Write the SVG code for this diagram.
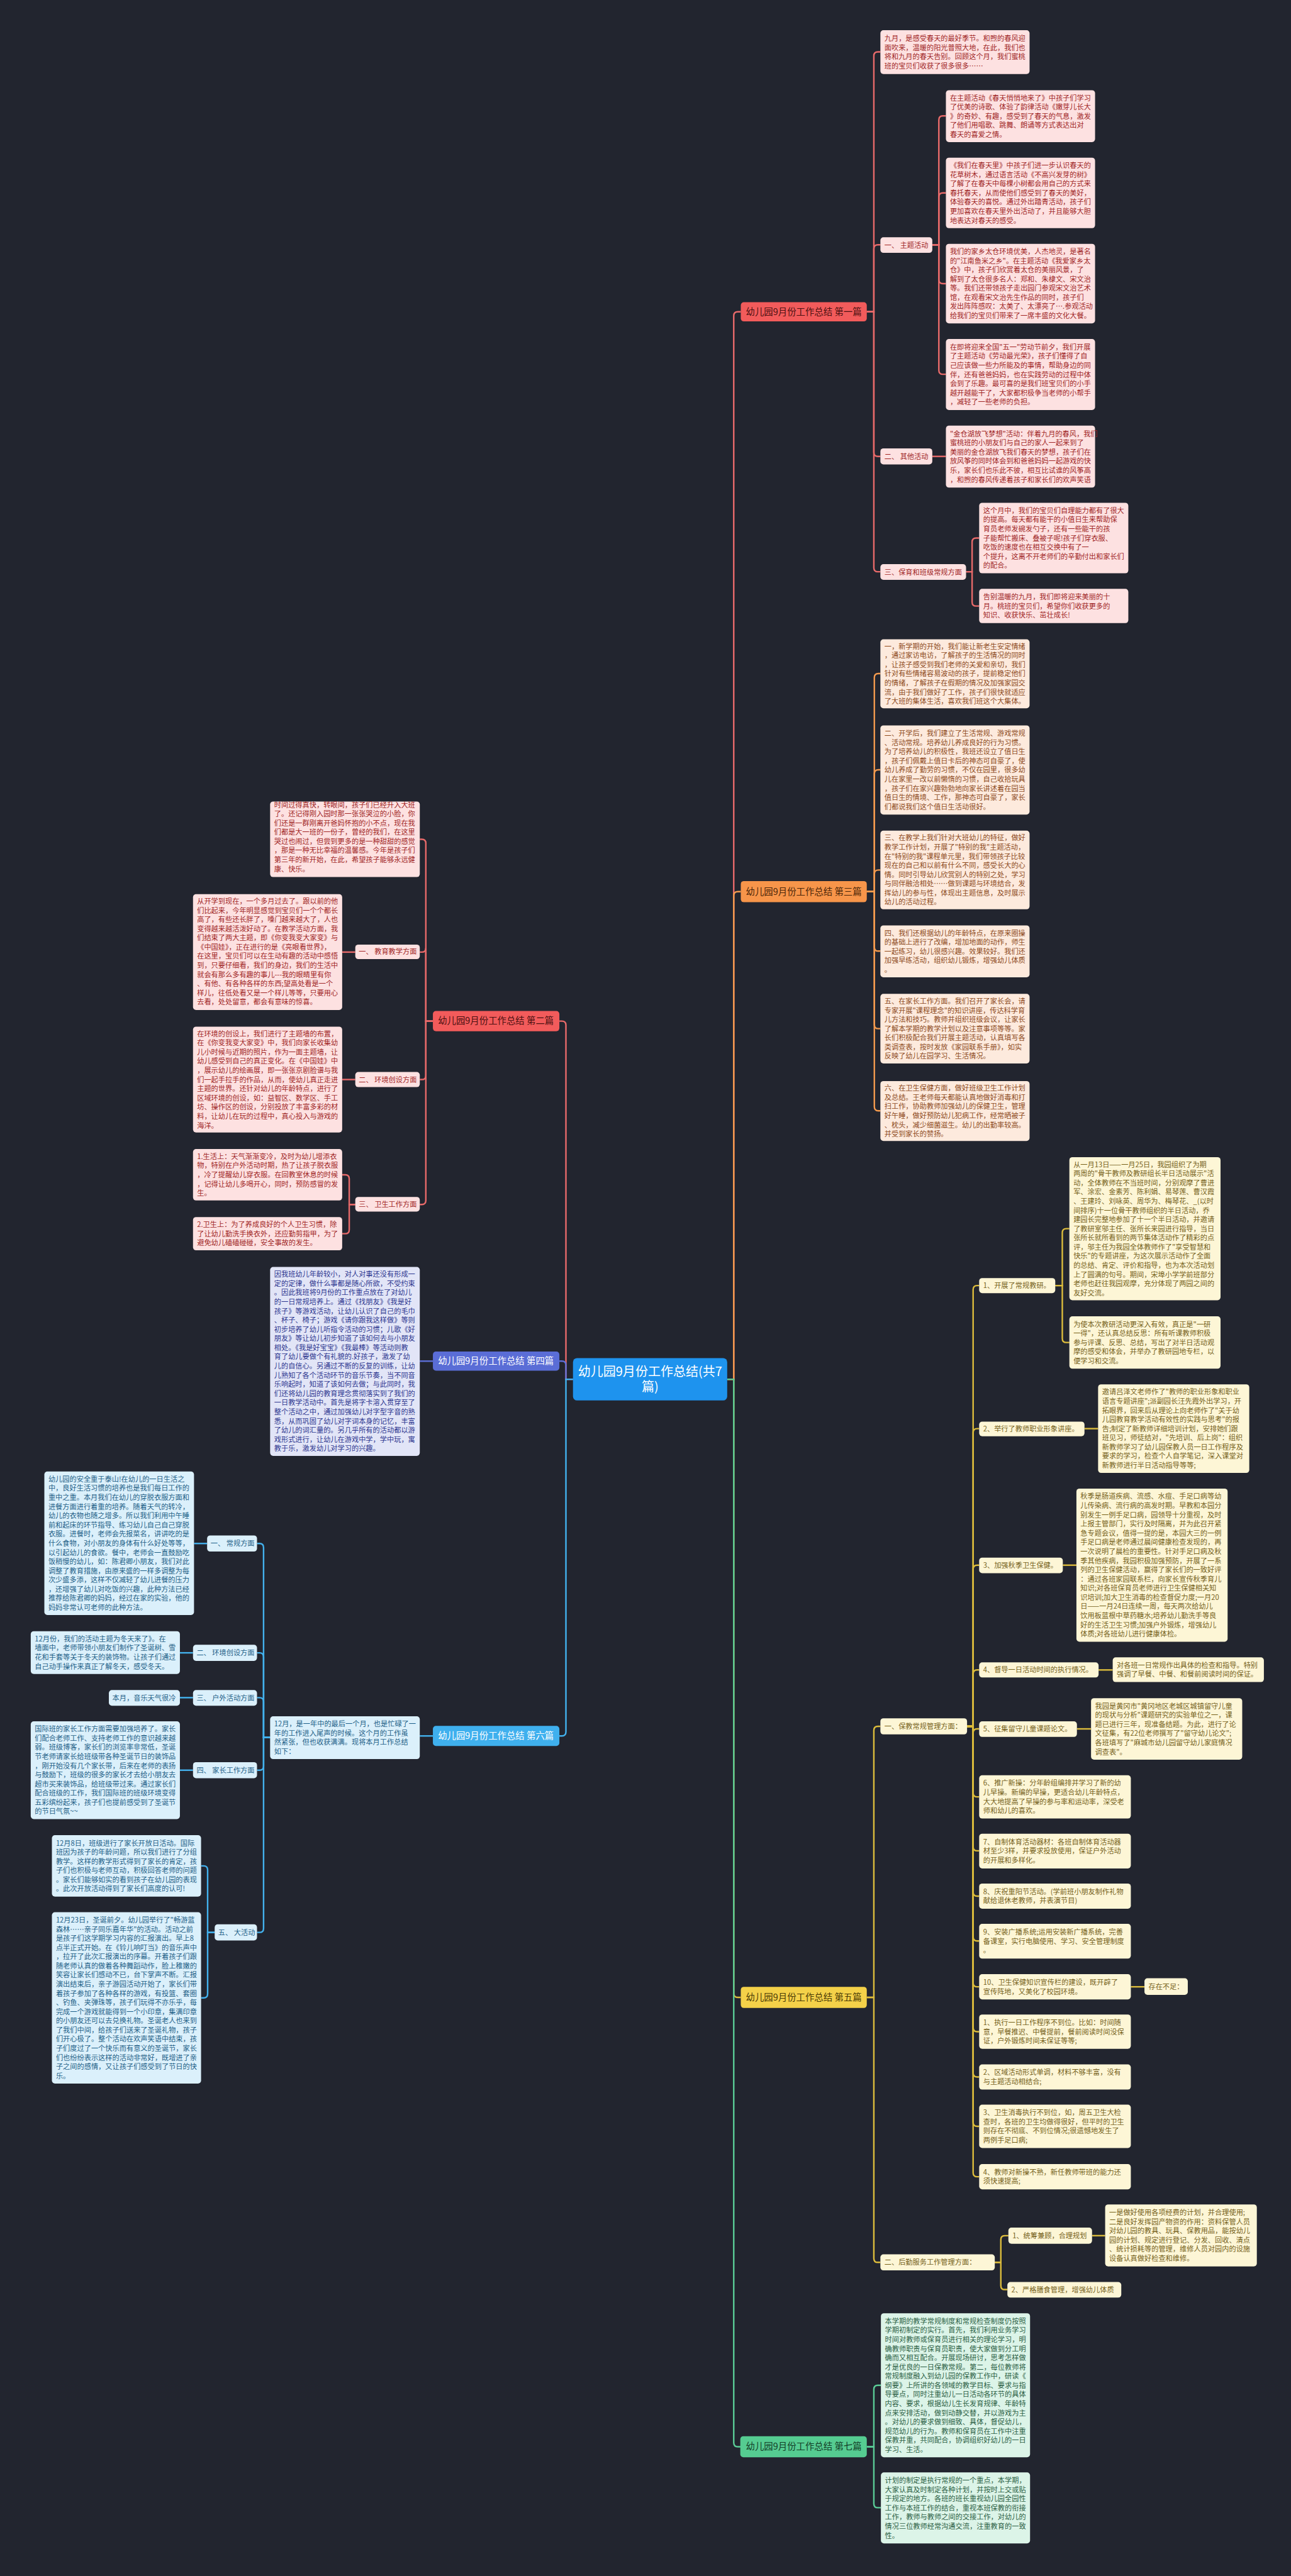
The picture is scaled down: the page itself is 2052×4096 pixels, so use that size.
<svg xmlns="http://www.w3.org/2000/svg" width="2052" height="4096" viewBox="0 0 2052 4096">
<style>
text{font-family:"Noto Sans CJK SC","Noto Sans",sans-serif;font-size:14px}
.r{fill:#fde1e1}.tr{fill:#a12626}
.o{fill:#fdeadd}.to{fill:#8e4a1c}
.y{fill:#fdf6d6}.ty{fill:#76621a}
.g{fill:#dcf4e8}.tg{fill:#2b5f44}
.p{fill:#e2e5f7}.tp{fill:#2d3690}
.b{fill:#dbf0fb}.tb{fill:#1d5f88}
.bn{font-size:18px;text-anchor:middle}
.c path{fill:none;stroke-width:3}
.cr{stroke:#e86a6a}.co{stroke:#f39a4e}.cy{stroke:#dcbc3c}.cg{stroke:#5acb96}.cp{stroke:#5d6fd8}.cb{stroke:#43b2ee}
</style>
<rect width="2052" height="4096" fill="#22252f"/>
<g transform="scale(0.801)">
<g class="c">
<path class="cr" d="M1443 2738H1456V627Q1456 619 1464 619H1470"/>
<path class="co" d="M1443 2738H1456V1778Q1456 1770 1464 1770H1470"/>
<path class="cy" d="M1443 2738H1456V3957Q1456 3965 1464 3965H1470"/>
<path class="cg" d="M1443 2738H1456V4849Q1456 4857 1464 4857H1470"/>
<path class="cr" d="M1137 2738H1123V2035Q1123 2027 1115 2027H1110"/>
<path class="cp" d="M1137 2738H1123V2710Q1123 2702 1115 2702H1110"/>
<path class="cb" d="M1137 2738H1123V3438Q1123 3446 1115 3446H1110"/>
<path class="cr" d="M1720 619H1734V111Q1734 103 1742 103H1747"/>
<path class="cr" d="M1720 619H1734V494Q1734 486 1742 486H1747"/>
<path class="cr" d="M1720 619H1734V898Q1734 906 1742 906H1747"/>
<path class="cr" d="M1720 619H1734V1127Q1734 1135 1742 1135H1747"/>
<path class="cr" d="M1850 486H1863V238Q1863 230 1871 230H1877"/>
<path class="cr" d="M1850 486H1863V391Q1863 383 1871 383H1877"/>
<path class="cr" d="M1850 486H1863V555Q1863 563 1871 563H1877"/>
<path class="cr" d="M1850 486H1863V735Q1863 743 1871 743H1877"/>
<path class="cr" d="M1850 906H1877"/>
<path class="cr" d="M1917 1135H1929V1076Q1929 1068 1937 1068H1943"/>
<path class="cr" d="M1917 1135H1929V1195Q1929 1203 1937 1203H1943"/>
<path class="co" d="M1720 1770H1735V1345Q1735 1337 1743 1337H1747"/>
<path class="co" d="M1720 1770H1735V1536Q1735 1528 1743 1528H1747"/>
<path class="co" d="M1720 1770H1735V1735Q1735 1727 1743 1727H1747"/>
<path class="co" d="M1720 1770H1735V1880Q1735 1888 1743 1888H1747"/>
<path class="co" d="M1720 1770H1735V2034Q1735 2042 1743 2042H1747"/>
<path class="co" d="M1720 1770H1735V2197Q1735 2205 1743 2205H1747"/>
<path class="cy" d="M1720 3965H1734V3435Q1734 3427 1742 3427H1747"/>
<path class="cy" d="M1720 3965H1734V4483Q1734 4491 1742 4491H1747"/>
<path class="cy" d="M1919 3427H1931V2560Q1931 2552 1939 2552H1943"/>
<path class="cy" d="M1919 3427H1931V2844Q1931 2836 1939 2836H1943"/>
<path class="cy" d="M1919 3427H1931V3115Q1931 3107 1939 3107H1943"/>
<path class="cy" d="M1919 3427H1931V3323Q1931 3315 1939 3315H1943"/>
<path class="cy" d="M1919 3427H1931V3440Q1931 3432 1939 3432H1943"/>
<path class="cy" d="M1919 3427H1931V3559Q1931 3567 1939 3567H1943"/>
<path class="cy" d="M1919 3427H1931V3666Q1931 3674 1939 3674H1943"/>
<path class="cy" d="M1919 3427H1931V3756Q1931 3764 1939 3764H1943"/>
<path class="cy" d="M1919 3427H1931V3845Q1931 3853 1939 3853H1943"/>
<path class="cy" d="M1919 3427H1931V3936Q1931 3944 1939 3944H1943"/>
<path class="cy" d="M1919 3427H1931V4025Q1931 4033 1939 4033H1943"/>
<path class="cy" d="M1919 3427H1931V4115Q1931 4123 1939 4123H1943"/>
<path class="cy" d="M1919 3427H1931V4213Q1931 4221 1939 4221H1943"/>
<path class="cy" d="M1919 3427H1931V4313Q1931 4321 1939 4321H1943"/>
<path class="cy" d="M2094 2552H2108V2447Q2108 2439 2116 2439H2122"/>
<path class="cy" d="M2094 2552H2108V2657Q2108 2665 2116 2665H2122"/>
<path class="cy" d="M2152 2836H2179"/>
<path class="cy" d="M2109 3107H2136"/>
<path class="cy" d="M2180 3315H2208"/>
<path class="cy" d="M2137 3432H2165"/>
<path class="cy" d="M2244 3944H2271"/>
<path class="cy" d="M1974 4491H1986V4446Q1986 4438 1994 4438H2001"/>
<path class="cy" d="M1974 4491H1986V4537Q1986 4545 1994 4545H1999"/>
<path class="cy" d="M2167 4438H2193"/>
<path class="cg" d="M1720 4857H1734V4743Q1734 4735 1742 4735H1748"/>
<path class="cg" d="M1720 4857H1734V4970Q1734 4978 1742 4978H1748"/>
<path class="cr" d="M859 2027H845V1674Q845 1666 837 1666H833"/>
<path class="cr" d="M859 2027H845V1882Q845 1890 837 1890H833"/>
<path class="cr" d="M859 2027H845V2135Q845 2143 837 2143H833"/>
<path class="cr" d="M859 2027H845V2383Q845 2391 837 2391H833"/>
<path class="cr" d="M705 1890H679"/>
<path class="cr" d="M705 2143H679"/>
<path class="cr" d="M705 2391H693V2340Q693 2332 685 2332H679"/>
<path class="cr" d="M705 2391H693V2441Q693 2449 685 2449H679"/>
<path class="cp" d="M859 2702H833"/>
<path class="cb" d="M859 3446H833"/>
<path class="cb" d="M536 3449H523V3072Q523 3064 515 3064H510"/>
<path class="cb" d="M536 3449H523V3289Q523 3281 515 3281H510"/>
<path class="cb" d="M536 3449H523V3378Q523 3370 515 3370H510"/>
<path class="cb" d="M536 3449H523V3506Q523 3514 515 3514H510"/>
<path class="cb" d="M536 3449H523V3828Q523 3836 515 3836H510"/>
<path class="cb" d="M411 3064H385"/>
<path class="cb" d="M383 3281H357"/>
<path class="cb" d="M383 3370H357"/>
<path class="cb" d="M383 3514H357"/>
<path class="cb" d="M426 3836H412V3712Q412 3704 404 3704H399"/>
<path class="cb" d="M426 3836H412V3958Q412 3966 404 3966H399"/>
</g>

<g id="center"><rect x="1137" y="2696" width="306" height="84" rx="8" fill="#1e93ee"/><text x="1290" y="2731" fill="#fff" text-anchor="middle" style="font-size:25px">幼儿园9月份工作总结(共7<tspan x="1290" dy="30">篇)</tspan></text></g>

<g id="b1"><rect x="1470" y="600" width="250" height="38" rx="6" fill="#f25b5b"/><text class="bn" x="1595" y="625" fill="#4a1010">幼儿园9月份工作总结 第一篇</text></g>
<g id="b3"><rect x="1470" y="1749" width="250" height="42" rx="6" fill="#f7954a"/><text class="bn" x="1595" y="1776" fill="#4a2508">幼儿园9月份工作总结 第三篇</text></g>
<g id="b5"><rect x="1470" y="3944" width="250" height="42" rx="6" fill="#f4d149"/><text class="bn" x="1595" y="3971" fill="#4a3a05">幼儿园9月份工作总结 第五篇</text></g>
<g id="b7"><rect x="1469" y="4836" width="251" height="42" rx="6" fill="#55cc91"/><text class="bn" x="1595" y="4863" fill="#123d27">幼儿园9月份工作总结 第七篇</text></g>
<g id="b2"><rect x="859" y="2007" width="251" height="40" rx="6" fill="#f25b5b"/><text class="bn" x="984" y="2033" fill="#4a1010">幼儿园9月份工作总结 第二篇</text></g>
<g id="b4"><rect x="859" y="2683" width="251" height="38" rx="6" fill="#5a6dd6"/><text class="bn" x="984" y="2708" fill="#fff">幼儿园9月份工作总结 第四篇</text></g>
<g id="b6"><rect x="859" y="3426" width="251" height="40" rx="6" fill="#3fb0ee"/><text class="bn" x="984" y="3452" fill="#fff">幼儿园9月份工作总结 第六篇</text></g>

<g id="s1a"><rect class="r" x="1747" y="60" width="296" height="87" rx="6"/><text class="tr" x="1755" y="81.3"><tspan x="1755">九月，是感受春天的最好季节。和煦的春风迎</tspan><tspan x="1755" dy="18.2">面吹来，温暖的阳光普照大地，在此，我们也</tspan><tspan x="1755" dy="18.2">将和九月的春天告别。回顾这个月，我们蜜桃</tspan><tspan x="1755" dy="18.2">班的宝贝们收获了很多很多……</tspan></text></g>
<g id="s1n1"><rect class="r" x="1747" y="471" width="103" height="31" rx="6"/><text class="tr" x="1755" y="491.5">一、 主题活动</text></g>
<g id="s1b"><rect class="r" x="1877" y="179" width="296" height="103" rx="6"/><text class="tr" x="1885" y="199.2"><tspan x="1885">在主题活动《春天悄悄地来了》中孩子们学习</tspan><tspan x="1885" dy="18.2">了优美的诗歌、体验了韵律活动《嫩芽儿长大</tspan><tspan x="1885" dy="18.2">》的奇妙、有趣，感受到了春天的气息，激发</tspan><tspan x="1885" dy="18.2">了他们用唱歌、跳舞、朗诵等方式表达出对</tspan><tspan x="1885" dy="18.2">春天的喜爱之情。</tspan></text></g>
<g id="s1c"><rect class="r" x="1877" y="313" width="296" height="140" rx="6"/><text class="tr" x="1885" y="333.5"><tspan x="1885">《我们在春天里》中孩子们进一步认识春天的</tspan><tspan x="1885" dy="18.2">花草树木，通过语言活动《不高兴发芽的树》</tspan><tspan x="1885" dy="18.2">了解了在春天中每棵小树都会用自己的方式来</tspan><tspan x="1885" dy="18.2">春托春天，从而使他们感受到了春天的美好，</tspan><tspan x="1885" dy="18.2">体验春天的喜悦。通过外出踏青活动，孩子们</tspan><tspan x="1885" dy="18.2">更加喜欢在春天里外出活动了，并且能够大胆</tspan><tspan x="1885" dy="18.2">地表达对春天的感受。</tspan></text></g>
<g id="s1d"><rect class="r" x="1877" y="484" width="296" height="158" rx="6"/><text class="tr" x="1885" y="504.4"><tspan x="1885">我们的家乡太仓环境优美，人杰地灵，是著名</tspan><tspan x="1885" dy="18.2">的"江南鱼米之乡"。在主题活动《我爱家乡太</tspan><tspan x="1885" dy="18.2">仓》中，孩子们欣赏着太仓的美丽风景，了</tspan><tspan x="1885" dy="18.2">解到了太仓很多名人：郑和、朱棣文、宋文治</tspan><tspan x="1885" dy="18.2">等。我们还带领孩子走出园门参观宋文治艺术</tspan><tspan x="1885" dy="18.2">馆，在观看宋文治先生作品的同时，孩子们</tspan><tspan x="1885" dy="18.2">发出阵阵感叹：太美了、太漂亮了….参观活动</tspan><tspan x="1885" dy="18.2">给我们的宝贝们带来了一席丰盛的文化大餐。</tspan></text></g>
<g id="s1e"><rect class="r" x="1877" y="673" width="296" height="141" rx="6"/><text class="tr" x="1885" y="694"><tspan x="1885">在即将迎来全国"五一"劳动节前夕，我们开展</tspan><tspan x="1885" dy="18.2">了主题活动《劳动最光荣》，孩子们懂得了自</tspan><tspan x="1885" dy="18.2">己应该做一些力所能及的事情，帮助身边的同</tspan><tspan x="1885" dy="18.2">伴，还有爸爸妈妈，也在实践劳动的过程中体</tspan><tspan x="1885" dy="18.2">会到了乐趣。最可喜的是我们班宝贝们的小手</tspan><tspan x="1885" dy="18.2">越开越能干了，大家都积极争当老师的小帮手</tspan><tspan x="1885" dy="18.2">，减轻了一些老师的负担。</tspan></text></g>
<g id="s1n2"><rect class="r" x="1747" y="890" width="103" height="32" rx="6"/><text class="tr" x="1755" y="911">二、 其他活动</text></g>
<g id="s1f"><rect class="r" x="1877" y="845" width="296" height="123" rx="6"/><text class="tr" x="1885" y="866.1"><tspan x="1885">"金仓湖放飞梦想"活动：伴着九月的春风，我们</tspan><tspan x="1885" dy="18.2">蜜桃班的小朋友们与自己的家人一起来到了</tspan><tspan x="1885" dy="18.2">美丽的金仓湖放飞我们春天的梦想，孩子们在</tspan><tspan x="1885" dy="18.2">放风筝的同时体会到和爸爸妈妈一起游戏的快</tspan><tspan x="1885" dy="18.2">乐，家长们也乐此不彼，相互比试谁的风筝高</tspan><tspan x="1885" dy="18.2">，和煦的春风传递着孩子和家长们的欢声笑语</tspan></text></g>
<g id="s1n3"><rect class="r" x="1747" y="1120" width="170" height="31" rx="6"/><text class="tr" x="1755" y="1140.5">三、保育和班级常规方面</text></g>
<g id="s1g"><rect class="r" x="1943" y="998" width="296" height="140" rx="6"/><text class="tr" x="1951" y="1018.5"><tspan x="1951">这个月中，我们的宝贝们自理能力都有了很大</tspan><tspan x="1951" dy="18.2">的提高。每天都有能干的小值日生来帮助保</tspan><tspan x="1951" dy="18.2">育员老师发碗发勺子，还有一些能干的孩</tspan><tspan x="1951" dy="18.2">子能帮忙搬床、叠被子呢!孩子们穿衣服、</tspan><tspan x="1951" dy="18.2">吃饭的速度也在相互交换中有了一</tspan><tspan x="1951" dy="18.2">个提升，这离不开老师们的辛勤付出和家长们</tspan><tspan x="1951" dy="18.2">的配合。</tspan></text></g>
<g id="s1h"><rect class="r" x="1943" y="1169" width="296" height="68" rx="6"/><text class="tr" x="1951" y="1189.9"><tspan x="1951">告别温暖的九月，我们即将迎来美丽的十</tspan><tspan x="1951" dy="18.2">月。桃班的宝贝们，希望你们收获更多的</tspan><tspan x="1951" dy="18.2">知识、收获快乐、茁壮成长!</tspan></text></g>

<g id="s3a"><rect class="o" x="1747" y="1269" width="296" height="137" rx="6"/><text class="to" x="1755" y="1288"><tspan x="1755">一，新学期的开始，我们能让新老生安定情绪</tspan><tspan x="1755" dy="18.2">，通过家访电访，了解孩子的生活情况的同时</tspan><tspan x="1755" dy="18.2">，让孩子感受到我们老师的关爱和亲切，我们</tspan><tspan x="1755" dy="18.2">针对有些情绪容易波动的孩子，提前稳定他们</tspan><tspan x="1755" dy="18.2">的情绪，了解孩子在假期的情况及加强家园交</tspan><tspan x="1755" dy="18.2">流，由于我们做好了工作，孩子们很快就适应</tspan><tspan x="1755" dy="18.2">了大班的集体生活，喜欢我们班这个大集体。</tspan></text></g>
<g id="s3b"><rect class="o" x="1747" y="1440" width="296" height="177" rx="6"/><text class="to" x="1755" y="1460.8"><tspan x="1755">二、开学后，我们建立了生活常规、游戏常规</tspan><tspan x="1755" dy="18.2">、活动常规。培养幼儿养成良好的行为习惯。</tspan><tspan x="1755" dy="18.2">为了培养幼儿的积极性，我班还设立了值日生</tspan><tspan x="1755" dy="18.2">，孩子们佩戴上值日卡后的神态可自豪了，使</tspan><tspan x="1755" dy="18.2">幼儿养成了勤劳的习惯，不仅在园里，很多幼</tspan><tspan x="1755" dy="18.2">儿在家里一改以前懒惰的习惯，自己收拾玩具</tspan><tspan x="1755" dy="18.2">，孩子们在家兴趣勃勃地向家长讲述着在园当</tspan><tspan x="1755" dy="18.2">值日生的情境、工作，那神态可自豪了，家长</tspan><tspan x="1755" dy="18.2">们都说我们这个值日生活动很好。</tspan></text></g>
<g id="s3c"><rect class="o" x="1747" y="1649" width="296" height="156" rx="6"/><text class="to" x="1755" y="1668.4"><tspan x="1755">三、在教学上我们针对大班幼儿的特征，做好</tspan><tspan x="1755" dy="18.2">教学工作计划，开展了"特别的我"主题活动，</tspan><tspan x="1755" dy="18.2">在"特别的我"课程单元里，我们带领孩子比较</tspan><tspan x="1755" dy="18.2">现在的自己和以前有什么不同，感受长大的心</tspan><tspan x="1755" dy="18.2">情。同时引导幼儿欣赏别人的特别之处，学习</tspan><tspan x="1755" dy="18.2">与同伴融洽相处……做到课题与环境结合，发</tspan><tspan x="1755" dy="18.2">挥幼儿的参与性，体现出主题信息，及时展示</tspan><tspan x="1755" dy="18.2">幼儿的活动过程。</tspan></text></g>
<g id="s3d"><rect class="o" x="1747" y="1837" width="296" height="103" rx="6"/><text class="to" x="1755" y="1857.2"><tspan x="1755">四、我们还根据幼儿的年龄特点，在原来圈操</tspan><tspan x="1755" dy="18.2">的基础上进行了改编，增加地面的动作，师生</tspan><tspan x="1755" dy="18.2">一起练习，幼儿很感兴趣。效果较好。我们还</tspan><tspan x="1755" dy="18.2">加强早练活动，组织幼儿锻炼，增强幼儿体质</tspan><tspan x="1755" dy="18.2">。</tspan></text></g>
<g id="s3e"><rect class="o" x="1747" y="1973" width="296" height="138" rx="6"/><text class="to" x="1755" y="1992.5"><tspan x="1755">五、在家长工作方面。我们召开了家长会，请</tspan><tspan x="1755" dy="18.2">专家开展"课程理念"的知识讲座，传达科学育</tspan><tspan x="1755" dy="18.2">儿方法和技巧。教师并组织班级会议，让家长</tspan><tspan x="1755" dy="18.2">了解本学期的教学计划以及注意事项等等。家</tspan><tspan x="1755" dy="18.2">长们积极配合我们开展主题活动，认真填写各</tspan><tspan x="1755" dy="18.2">类调查表，按时发放《家园联系手册》，如实</tspan><tspan x="1755" dy="18.2">反映了幼儿在园学习、生活情况。</tspan></text></g>
<g id="s3f"><rect class="o" x="1747" y="2146" width="296" height="119" rx="6"/><text class="to" x="1755" y="2165.1"><tspan x="1755">六、在卫生保健方面，做好班级卫生工作计划</tspan><tspan x="1755" dy="18.2">及总结。王老师每天都能认真地做好消毒和打</tspan><tspan x="1755" dy="18.2">扫工作，协助教师加强幼儿的保健卫生，管理</tspan><tspan x="1755" dy="18.2">好午睡，做好预防幼儿犯病工作，经常晒被子</tspan><tspan x="1755" dy="18.2">、枕头，减少细菌滋生。幼儿的出勤率较高。</tspan><tspan x="1755" dy="18.2">并受到家长的赞扬。</tspan></text></g>

<g id="s5n1"><rect class="y" x="1747" y="3411" width="172" height="32" rx="6"/><text class="ty" x="1755" y="3432">一、保教常规管理方面：</text></g>
<g id="s5i1"><rect class="y" x="1943" y="2537" width="151" height="30" rx="6"/><text class="ty" x="1951" y="2557">1、开展了常规教研。</text></g>
<g id="s5b1"><rect class="y" x="2122" y="2297" width="300" height="284" rx="6"/><text class="ty" x="2130" y="2316.7"><tspan x="2130">从一月13日——一月25日，我园组织了为期</tspan><tspan x="2130" dy="18.2">两周的"骨干教师及教研组长半日活动展示"活</tspan><tspan x="2130" dy="18.2">动，全体教师在不当班时间，分别观摩了曹进</tspan><tspan x="2130" dy="18.2">军、涂宏、金素芳、陈利娟、易琴莲、曹汉霞</tspan><tspan x="2130" dy="18.2">、王建玲、刘咏英、周华为、梅琴花、_(以时</tspan><tspan x="2130" dy="18.2">间排序)十一位骨干教师组织的半日活动，乔</tspan><tspan x="2130" dy="18.2">建园长完整地参加了十一个半日活动，并邀请</tspan><tspan x="2130" dy="18.2">了教研室邬主任、张所长来园进行指导，当日</tspan><tspan x="2130" dy="18.2">张所长就所看到的两节集体活动作了精彩的点</tspan><tspan x="2130" dy="18.2">评，邬主任为我园全体教师作了"享受智慧和</tspan><tspan x="2130" dy="18.2">快乐"的专题讲座，为这次展示活动作了全面</tspan><tspan x="2130" dy="18.2">的总结、肯定、评价和指导，也为本次活动划</tspan><tspan x="2130" dy="18.2">上了圆满的句号。期间，宋埠小学学前班部分</tspan><tspan x="2130" dy="18.2">老师也赶往我园观摩，充分体现了两园之间的</tspan><tspan x="2130" dy="18.2">友好交流。</tspan></text></g>
<g id="s5b2"><rect class="y" x="2122" y="2613" width="300" height="104" rx="6"/><text class="ty" x="2130" y="2633.7"><tspan x="2130">为使本次教研活动更深入有效，真正是"一研</tspan><tspan x="2130" dy="18.2">一得"，还认真总结反思：所有听课教师积极</tspan><tspan x="2130" dy="18.2">参与评课、反思、总结，写出了对半日活动观</tspan><tspan x="2130" dy="18.2">摩的感受和体会，并举办了教研园地专栏，以</tspan><tspan x="2130" dy="18.2">便学习和交流。</tspan></text></g>
<g id="s5i2"><rect class="y" x="1943" y="2822" width="209" height="29" rx="6"/><text class="ty" x="1951" y="2841.5">2、举行了教师职业形象讲座。</text></g>
<g id="s5b3"><rect class="y" x="2179" y="2748" width="300" height="176" rx="6"/><text class="ty" x="2187" y="2768.3"><tspan x="2187">邀请吕泽文老师作了"教师的职业形象和职业</tspan><tspan x="2187" dy="18.2">语言专题讲座";派副园长汪先霞外出学习，开</tspan><tspan x="2187" dy="18.2">拓眼界，回来后从理论上向老师作了"关于幼</tspan><tspan x="2187" dy="18.2">儿园教育教学活动有效性的实践与思考"的报</tspan><tspan x="2187" dy="18.2">告;制定了新教师详细培训计划，安排她们跟</tspan><tspan x="2187" dy="18.2">班见习，师徒结对，"先培训、后上岗"：组织</tspan><tspan x="2187" dy="18.2">新教师学习了幼儿园保教人员一日工作程序及</tspan><tspan x="2187" dy="18.2">要求的学习，检查个人自学笔记，深入课堂对</tspan><tspan x="2187" dy="18.2">新教师进行半日活动指导等等;</tspan></text></g>
<g id="s5i3"><rect class="y" x="1943" y="3092" width="166" height="31" rx="6"/><text class="ty" x="1951" y="3112.5">3、加强秋季卫生保健。</text></g>
<g id="s5b4"><rect class="y" x="2136" y="2955" width="300" height="304" rx="6"/><text class="ty" x="2144" y="2975.6"><tspan x="2144">秋季是肠道疾病、流感、水痘、手足口病等幼</tspan><tspan x="2144" dy="18.2">儿传染病、流行病的高发时期。早教和本园分</tspan><tspan x="2144" dy="18.2">别发生一例手足口病，园领导十分重视，及时</tspan><tspan x="2144" dy="18.2">上报主管部门，实行及时隔离，并为此召开紧</tspan><tspan x="2144" dy="18.2">急专题会议，值得一提的是，本园大三的一例</tspan><tspan x="2144" dy="18.2">手足口病是老师通过晨间健康检查发现的，再</tspan><tspan x="2144" dy="18.2">一次说明了晨检的重要性。针对手足口病及秋</tspan><tspan x="2144" dy="18.2">季其他疾病，我园积极加强预防，开展了一系</tspan><tspan x="2144" dy="18.2">列的卫生保健活动，赢得了家长们的一致好评</tspan><tspan x="2144" dy="18.2">：通过各班家园联系栏，向家长宣传秋季育儿</tspan><tspan x="2144" dy="18.2">知识;对各班保育员老师进行卫生保健相关知</tspan><tspan x="2144" dy="18.2">识培训;加大卫生消毒的检查督促力度;一月20</tspan><tspan x="2144" dy="18.2">日——一月24日连续一周，每天两次给幼儿</tspan><tspan x="2144" dy="18.2">饮用板蓝根中草药糖水;培养幼儿勤洗手等良</tspan><tspan x="2144" dy="18.2">好的生活卫生习惯;加强户外锻炼，增强幼儿</tspan><tspan x="2144" dy="18.2">体质;对各班幼儿进行健康体检。</tspan></text></g>
<g id="s5i4"><rect class="y" x="1943" y="3300" width="237" height="30" rx="6"/><text class="ty" x="1951" y="3320">4、督导一日活动时间的执行情况。</text></g>
<g id="s5b5"><rect class="y" x="2208" y="3290" width="300" height="49" rx="6"/><text class="ty" x="2216" y="3310.5"><tspan x="2216">对各班一日常规作出具体的检查和指导。特别</tspan><tspan x="2216" dy="18.2">强调了早餐、中餐、和餐前阅读时间的保证。</tspan></text></g>
<g id="s5i5"><rect class="y" x="1943" y="3417" width="194" height="31" rx="6"/><text class="ty" x="1951" y="3437.5">5、征集留守儿童课题论文。</text></g>
<g id="s5b6"><rect class="y" x="2165" y="3371" width="300" height="122" rx="6"/><text class="ty" x="2173" y="3391.6"><tspan x="2173">我园是黄冈市"黄冈地区老城区城镇留守儿童</tspan><tspan x="2173" dy="18.2">的现状与分析"课题研究的实验单位之一，课</tspan><tspan x="2173" dy="18.2">题已进行三年，现准备结题。为此，进行了论</tspan><tspan x="2173" dy="18.2">文征集，有22位老师撰写了"留守幼儿论文";</tspan><tspan x="2173" dy="18.2">各班填写了"麻城市幼儿园留守幼儿家庭情况</tspan><tspan x="2173" dy="18.2">调查表"。</tspan></text></g>
<g id="s5i6"><rect class="y" x="1943" y="3524" width="301" height="86" rx="6"/><text class="ty" x="1951" y="3544.8"><tspan x="1951">6、推广新操：分年龄组编排并学习了新的幼</tspan><tspan x="1951" dy="18.2">儿早操。新编的早操，更适合幼儿年龄特点，</tspan><tspan x="1951" dy="18.2">大大地提高了早操的参与率和运动率，深受老</tspan><tspan x="1951" dy="18.2">师和幼儿的喜欢。</tspan></text></g>
<g id="s5i7"><rect class="y" x="1943" y="3640" width="301" height="69" rx="6"/><text class="ty" x="1951" y="3661.4"><tspan x="1951">7、自制体育活动器材：各班自制体育活动器</tspan><tspan x="1951" dy="18.2">材至少3样，并要求投放使用，保证户外活动</tspan><tspan x="1951" dy="18.2">的开展和多样化。</tspan></text></g>
<g id="s5i8"><rect class="y" x="1943" y="3739" width="301" height="50" rx="6"/><text class="ty" x="1951" y="3760"><tspan x="1951">8、庆祝重阳节活动。(学前班小朋友制作礼物</tspan><tspan x="1951" dy="18.2">献给退休老教师，并表演节目)</tspan></text></g>
<g id="s5i9"><rect class="y" x="1943" y="3819" width="301" height="69" rx="6"/><text class="ty" x="1951" y="3840.4"><tspan x="1951">9、安装广播系统;运用安装新广播系统，完善</tspan><tspan x="1951" dy="18.2">备课室，实行电脑使用、学习、安全管理制度</tspan><tspan x="1951" dy="18.2">。</tspan></text></g>
<g id="s5i10"><rect class="y" x="1943" y="3919" width="301" height="50" rx="6"/><text class="ty" x="1951" y="3940"><tspan x="1951">10、卫生保健知识宣传栏的建设，既开辟了</tspan><tspan x="1951" dy="18.2">宣传阵地，又美化了校园环境。</tspan></text></g>
<g id="s5lack"><rect class="y" x="2271" y="3927" width="86" height="33" rx="6"/><text class="ty" x="2279" y="3948.5">存在不足：</text></g>
<g id="s5j1"><rect class="y" x="1943" y="3999" width="301" height="68" rx="6"/><text class="ty" x="1951" y="4019.9"><tspan x="1951">1、执行一日工作程序不到位。比如：时间随</tspan><tspan x="1951" dy="18.2">意，早餐推迟、中餐提前，餐前阅读时间没保</tspan><tspan x="1951" dy="18.2">证，户外锻炼时间未保证等等;</tspan></text></g>
<g id="s5j2"><rect class="y" x="1943" y="4098" width="301" height="50" rx="6"/><text class="ty" x="1951" y="4119"><tspan x="1951">2、区域活动形式单调，材料不够丰富，没有</tspan><tspan x="1951" dy="18.2">与主题活动相结合;</tspan></text></g>
<g id="s5j3"><rect class="y" x="1943" y="4178" width="301" height="86" rx="6"/><text class="ty" x="1951" y="4198.8"><tspan x="1951">3、卫生消毒执行不到位，如，周五卫生大检</tspan><tspan x="1951" dy="18.2">查时，各班的卫生均做得很好，但平时的卫生</tspan><tspan x="1951" dy="18.2">则存在不彻底、不到位情况;很遗憾地发生了</tspan><tspan x="1951" dy="18.2">两例手足口病;</tspan></text></g>
<g id="s5j4"><rect class="y" x="1943" y="4296" width="301" height="50" rx="6"/><text class="ty" x="1951" y="4317"><tspan x="1951">4、教师对新操不熟，新任教师带班的能力还</tspan><tspan x="1951" dy="18.2">须快速提高;</tspan></text></g>
<g id="s5n2"><rect class="y" x="1747" y="4475" width="227" height="32" rx="6"/><text class="ty" x="1755" y="4496">二、后勤服务工作管理方面：</text></g>
<g id="s5k1"><rect class="y" x="2001" y="4422" width="166" height="32" rx="6"/><text class="ty" x="2009" y="4443">1、统筹兼顾，合理规划</text></g>
<g id="s5kb1"><rect class="y" x="2193" y="4376" width="301" height="123" rx="6"/><text class="ty" x="2201" y="4397.1"><tspan x="2201">一是做好使用各项经费的计划，并合理使用;</tspan><tspan x="2201" dy="18.2">二是良好发挥园产物资的作用：资料保管人员</tspan><tspan x="2201" dy="18.2">对幼儿园的教具、玩具、保教用品，能按幼儿</tspan><tspan x="2201" dy="18.2">园的计划、规定进行登记、分发、回收、清点</tspan><tspan x="2201" dy="18.2">、统计损耗等的管理，维修人员对园内的设施</tspan><tspan x="2201" dy="18.2">设备认真做好检查和维修。</tspan></text></g>
<g id="s5k2"><rect class="y" x="1999" y="4530" width="226" height="31" rx="6"/><text class="ty" x="2007" y="4550.5">2、严格膳食管理，增强幼儿体质</text></g>

<g id="s7a"><rect class="g" x="1748" y="4592" width="296" height="286" rx="6"/><text class="tg" x="1756" y="4612.7"><tspan x="1756">本学期的教学常规制度和常规检查制度仍按照</tspan><tspan x="1756" dy="18.2">学期初制定的实行。首先，我们利用业务学习</tspan><tspan x="1756" dy="18.2">时间对教师或保育员进行相关的理论学习，明</tspan><tspan x="1756" dy="18.2">确教师职责与保育员职责，使大家做到分工明</tspan><tspan x="1756" dy="18.2">确而又相互配合。开展现场研讨，思考怎样做</tspan><tspan x="1756" dy="18.2">才是优良的一日保教常规。第二，每位教师将</tspan><tspan x="1756" dy="18.2">常规制度融入到幼儿园的保教工作中，研读《</tspan><tspan x="1756" dy="18.2">纲要》上所讲的各领域的教学目标、要求与指</tspan><tspan x="1756" dy="18.2">导要点，同时注重幼儿一日活动各环节的具体</tspan><tspan x="1756" dy="18.2">内容、要求，根据幼儿生长发育规律、年龄特</tspan><tspan x="1756" dy="18.2">点来安排活动，做到动静交替，并以游戏为主</tspan><tspan x="1756" dy="18.2">。对幼儿的要求做到细致、具体，督促幼儿，</tspan><tspan x="1756" dy="18.2">规范幼儿的行为。教师和保育员在工作中注重</tspan><tspan x="1756" dy="18.2">保教并重，共同配合，协调组织好幼儿的一日</tspan><tspan x="1756" dy="18.2">学习、生活。</tspan></text></g>
<g id="s7b"><rect class="g" x="1748" y="4908" width="296" height="141" rx="6"/><text class="tg" x="1756" y="4929"><tspan x="1756">计划的制定是执行常规的一个重点，本学期，</tspan><tspan x="1756" dy="18.2">大家认真及时制定各种计划，并按时上交或贴</tspan><tspan x="1756" dy="18.2">于规定的地方。各班的班长重视幼儿园全园性</tspan><tspan x="1756" dy="18.2">工作与本班工作的结合，重视本班保教的衔接</tspan><tspan x="1756" dy="18.2">工作，教师与教师之间的交接工作，对幼儿的</tspan><tspan x="1756" dy="18.2">情况三位教师经常沟通交流，注重教育的一致</tspan><tspan x="1756" dy="18.2">性。</tspan></text></g>

<g id="s2a"><rect class="r" x="536" y="1591" width="297" height="150" rx="6"/><text class="tr" x="544" y="1602.5"><tspan x="544">时间过得真快，转眼间，孩子们已经升入大班</tspan><tspan x="544" dy="18.2">了。还记得刚入园时那一张张哭泣的小脸，你</tspan><tspan x="544" dy="18.2">们还是一群刚离开爸妈怀抱的小不点，现在我</tspan><tspan x="544" dy="18.2">们都是大一班的一份子，曾经的我们，在这里</tspan><tspan x="544" dy="18.2">哭过也闹过，但尝到更多的是一种甜甜的感觉</tspan><tspan x="544" dy="18.2">，那是一种无比幸福的温馨感。今年是孩子们</tspan><tspan x="544" dy="18.2">第三年的新开始，在此，希望孩子能够永远健</tspan><tspan x="544" dy="18.2">康、快乐。</tspan></text></g>
<g id="s2n1"><rect class="r" x="705" y="1875" width="128" height="29" rx="6"/><text class="tr" x="712" y="1894.5">一、 教育教学方面</text></g>
<g id="s2b1"><rect class="r" x="383" y="1775" width="296" height="230" rx="6"/><text class="tr" x="391" y="1794"><tspan x="391">从开学到现在，一个多月过去了。跟以前的他</tspan><tspan x="391" dy="18.2">们比起来，今年明显感觉到宝贝们一个个都长</tspan><tspan x="391" dy="18.2">高了，有些还长胖了，嗓门越来越大了，人也</tspan><tspan x="391" dy="18.2">变得越来越活泼好动了。在教学活动方面，我</tspan><tspan x="391" dy="18.2">们结束了两大主题，即《你变我变大家变》与</tspan><tspan x="391" dy="18.2">《中国娃》，正在进行的是《亮眼看世界》，</tspan><tspan x="391" dy="18.2">在这里，宝贝们可以在生动有趣的活动中感悟</tspan><tspan x="391" dy="18.2">到，只要仔细看，我们的身边，我们的生活中</tspan><tspan x="391" dy="18.2">就会有那么多有趣的事儿---我的眼睛里有你</tspan><tspan x="391" dy="18.2">、有他、有各种各样的东西;望高处看是一个</tspan><tspan x="391" dy="18.2">样儿，往低处看又是一个样儿等等，只要用心</tspan><tspan x="391" dy="18.2">去看，处处留意，都会有意味的惊喜。</tspan></text></g>
<g id="s2n2"><rect class="r" x="705" y="2128" width="128" height="30" rx="6"/><text class="tr" x="712" y="2148">二、 环境创设方面</text></g>
<g id="s2b2"><rect class="r" x="383" y="2038" width="296" height="210" rx="6"/><text class="tr" x="391" y="2057.1"><tspan x="391">在环境的创设上，我们进行了主题墙的布置，</tspan><tspan x="391" dy="18.2">在《你变我变大家变》中，我们向家长收集幼</tspan><tspan x="391" dy="18.2">儿小时候与近期的照片，作为一面主题墙，让</tspan><tspan x="391" dy="18.2">幼儿感受到自己的真正变化。在《中国娃》中</tspan><tspan x="391" dy="18.2">，展示幼儿的绘画展，即一张张京剧脸谱与我</tspan><tspan x="391" dy="18.2">们一起手拉手的作品，从而，使幼儿真正走进</tspan><tspan x="391" dy="18.2">主题的世界。还针对幼儿的年龄特点，进行了</tspan><tspan x="391" dy="18.2">区域环境的创设，如：益智区、数学区、手工</tspan><tspan x="391" dy="18.2">坊、操作区的创设，分别投放了丰富多彩的材</tspan><tspan x="391" dy="18.2">料，让幼儿在玩的过程中，真心投入与游戏的</tspan><tspan x="391" dy="18.2">海洋。</tspan></text></g>
<g id="s2n3"><rect class="r" x="705" y="2376" width="128" height="29" rx="6"/><text class="tr" x="712" y="2395.5">三、 卫生工作方面</text></g>
<g id="s2b3"><rect class="r" x="383" y="2281" width="296" height="102" rx="6"/><text class="tr" x="391" y="2300.7"><tspan x="391">1.生活上：天气渐渐变冷，及时为幼儿增添衣</tspan><tspan x="391" dy="18.2">物，特别在户外活动时期，热了让孩子脱衣服</tspan><tspan x="391" dy="18.2">，冷了提醒幼儿穿衣服。在回教室休息的时候</tspan><tspan x="391" dy="18.2">，记得让幼儿多喝开心，同时，预防感冒的发</tspan><tspan x="391" dy="18.2">生。</tspan></text></g>
<g id="s2b4"><rect class="r" x="383" y="2416" width="296" height="66" rx="6"/><text class="tr" x="391" y="2435.9"><tspan x="391">2.卫生上：为了养成良好的个人卫生习惯，除</tspan><tspan x="391" dy="18.2">了让幼儿勤洗手换衣外，还应勤剪指甲，为了</tspan><tspan x="391" dy="18.2">避免幼儿磕磕碰碰，安全事故的发生。</tspan></text></g>

<g id="s4a"><rect class="p" x="536" y="2515" width="297" height="375" rx="6"/><text class="tp" x="544" y="2534.7"><tspan x="544">因我班幼儿年龄较小，对人对事还没有形成一</tspan><tspan x="544" dy="18.2">定的定律，做什么事都是随心所欲，不受约束</tspan><tspan x="544" dy="18.2">。因此我班将9月份的工作重点放在了对幼儿</tspan><tspan x="544" dy="18.2">的一日常规培养上。通过《找朋友》《我是好</tspan><tspan x="544" dy="18.2">孩子》等游戏活动，让幼儿认识了自己的毛巾</tspan><tspan x="544" dy="18.2">、杯子、椅子；游戏《请你跟我这样做》等则</tspan><tspan x="544" dy="18.2">初步培养了幼儿听指令活动的习惯；儿歌《好</tspan><tspan x="544" dy="18.2">朋友》等让幼儿初步知道了该如何去与小朋友</tspan><tspan x="544" dy="18.2">相处。《我是好宝宝》《我最棒》等活动则教</tspan><tspan x="544" dy="18.2">育了幼儿要做个有礼貌的.好孩子，激发了幼</tspan><tspan x="544" dy="18.2">儿的自信心。另通过不断的反复的训练，让幼</tspan><tspan x="544" dy="18.2">儿熟知了各个活动环节的音乐节奏，当不同音</tspan><tspan x="544" dy="18.2">乐响起时，知道了该如何去做；与此同时，我</tspan><tspan x="544" dy="18.2">们还将幼儿园的教育理念贯彻落实到了我们的</tspan><tspan x="544" dy="18.2">一日教学活动中。首先是将字卡溶入贯穿至了</tspan><tspan x="544" dy="18.2">整个活动之中，通过加强幼儿对字型字音的熟</tspan><tspan x="544" dy="18.2">悉，从而巩固了幼儿对字词本身的记忆，丰富</tspan><tspan x="544" dy="18.2">了幼儿的词汇量的。另几乎所有的活动都以游</tspan><tspan x="544" dy="18.2">戏形式进行，让幼儿在游戏中学，学中玩，寓</tspan><tspan x="544" dy="18.2">教于乐，激发幼儿对学习的兴趣。</tspan></text></g>

<g id="s6top"><rect class="b" x="536" y="3407" width="297" height="85" rx="6"/><text class="tb" x="544" y="3427.3"><tspan x="544">12月，是一年中的最后一个月，也是忙碌了一</tspan><tspan x="544" dy="18.2">年的工作进入尾声的时候。这个月的工作虽</tspan><tspan x="544" dy="18.2">然紧张，但也收获满满。现将本月工作总结</tspan><tspan x="544" dy="18.2">如下：</tspan></text></g>
<g id="s6n1"><rect class="b" x="411" y="3048" width="99" height="32" rx="6"/><text class="tb" x="418" y="3069">一、 常规方面</text></g>
<g id="s6b1"><rect class="b" x="88" y="2921" width="297" height="285" rx="6"/><text class="tb" x="96" y="2941.2"><tspan x="96">幼儿园的安全重于泰山!在幼儿的一日生活之</tspan><tspan x="96" dy="18.2">中，良好生活习惯的培养也是我们每日工作的</tspan><tspan x="96" dy="18.2">重中之重。本月我们在幼儿的穿脱衣服方面和</tspan><tspan x="96" dy="18.2">进餐方面进行着重的培养。随着天气的转冷，</tspan><tspan x="96" dy="18.2">幼儿的衣物也随之增多。所以我们利用中午睡</tspan><tspan x="96" dy="18.2">前和起床的环节指导、练习幼儿自己自己穿脱</tspan><tspan x="96" dy="18.2">衣服。进餐时，老师会先报菜名，讲讲吃的是</tspan><tspan x="96" dy="18.2">什么食物，对小朋友的身体有什么好处等等，</tspan><tspan x="96" dy="18.2">以引起幼儿的食欲。餐中，老师会一直鼓励吃</tspan><tspan x="96" dy="18.2">饭稍慢的幼儿，如：陈君卿小朋友，我们对此</tspan><tspan x="96" dy="18.2">调整了教育措施，由原来盛的一样多调整为每</tspan><tspan x="96" dy="18.2">次少盛多添，这样不仅减轻了幼儿进餐的压力</tspan><tspan x="96" dy="18.2">，还增强了幼儿对吃饭的兴趣，此种方法已经</tspan><tspan x="96" dy="18.2">推荐给陈君卿的妈妈，经过在家的实验，他的</tspan><tspan x="96" dy="18.2">妈妈非常认可老师的此种方法。</tspan></text></g>
<g id="s6n2"><rect class="b" x="383" y="3265" width="127" height="32" rx="6"/><text class="tb" x="390" y="3286">二、 环境创设方面</text></g>
<g id="s6b2"><rect class="b" x="61" y="3238" width="296" height="85" rx="6"/><text class="tb" x="69" y="3258.3"><tspan x="69">12月份，我们的活动主题为冬天来了》。在</tspan><tspan x="69" dy="18.2">墙面中，老师带领小朋友们制作了圣诞树、雪</tspan><tspan x="69" dy="18.2">花和手套等关于冬天的装饰物。让孩子们通过</tspan><tspan x="69" dy="18.2">自己动手操作来真正了解冬天，感受冬天。</tspan></text></g>
<g id="s6n3"><rect class="b" x="383" y="3355" width="127" height="31" rx="6"/><text class="tb" x="390" y="3375.5">三、 户外活动方面</text></g>
<g id="s6b3"><rect class="b" x="216" y="3355" width="141" height="31" rx="6"/><text class="tb" x="223" y="3375.5">本月，音乐天气很冷</text></g>
<g id="s6n4"><rect class="b" x="383" y="3498" width="127" height="32" rx="6"/><text class="tb" x="390" y="3519">四、 家长工作方面</text></g>
<g id="s6b4"><rect class="b" x="61" y="3417" width="296" height="194" rx="6"/><text class="tb" x="69" y="3437.2"><tspan x="69">国际班的家长工作方面需要加强培养了。家长</tspan><tspan x="69" dy="18.2">们配合老师工作、支持老师工作的意识越来越</tspan><tspan x="69" dy="18.2">弱。班级博客，家长们的浏览率非常低，圣诞</tspan><tspan x="69" dy="18.2">节老师请家长给班级带各种圣诞节日的装饰品</tspan><tspan x="69" dy="18.2">，刚开始没有几个家长带，后来在老师的表扬</tspan><tspan x="69" dy="18.2">与鼓励下，班级的很多的家长才去给小朋友去</tspan><tspan x="69" dy="18.2">超市买来装饰品，给班级带过来。通过家长们</tspan><tspan x="69" dy="18.2">配合班级的工作，我们国际班的班级环境变得</tspan><tspan x="69" dy="18.2">五彩缤纷起来，孩子们也提前感受到了圣诞节</tspan><tspan x="69" dy="18.2">的节日气氛~~</tspan></text></g>
<g id="s6n5"><rect class="b" x="426" y="3820" width="84" height="32" rx="6"/><text class="tb" x="433" y="3841">五、 大活动</text></g>
<g id="s6b5"><rect class="b" x="103" y="3643" width="296" height="122" rx="6"/><text class="tb" x="111" y="3663.6"><tspan x="111">12月8日，班级进行了家长开放日活动。国际</tspan><tspan x="111" dy="18.2">班因为孩子的年龄问题，所以我们进行了分组</tspan><tspan x="111" dy="18.2">教学。这样的教学形式得到了家长的肯定，孩</tspan><tspan x="111" dy="18.2">子们也积极与老师互动，积极回答老师的问题</tspan><tspan x="111" dy="18.2">。家长们能够如实的看到孩子在幼儿园的表现</tspan><tspan x="111" dy="18.2">。此次开放活动得到了家长们高度的认可!</tspan></text></g>
<g id="s6b6"><rect class="b" x="103" y="3796" width="296" height="340" rx="6"/><text class="tb" x="111" y="3816.4"><tspan x="111">12月23日，圣诞前夕。幼儿园举行了"畅游蓝</tspan><tspan x="111" dy="18.2">森林……亲子同乐嘉年华"的活动。活动之前</tspan><tspan x="111" dy="18.2">是孩子们这学期学习内容的汇报演出。早上8</tspan><tspan x="111" dy="18.2">点半正式开始。在《铃儿响叮当》的音乐声中</tspan><tspan x="111" dy="18.2">，拉开了此次汇报演出的序幕。开着孩子们跟</tspan><tspan x="111" dy="18.2">随老师认真的做着各种舞蹈动作，脸上稚嫩的</tspan><tspan x="111" dy="18.2">笑容让家长们感动不已，台下掌声不断。汇报</tspan><tspan x="111" dy="18.2">演出结束后，亲子游园活动开始了，家长们带</tspan><tspan x="111" dy="18.2">着孩子参加了各种各样的游戏，有投篮、套圈</tspan><tspan x="111" dy="18.2">、钓鱼、夹弹珠等，孩子们玩得不亦乐乎，每</tspan><tspan x="111" dy="18.2">完成一个游戏就能得到一个小印章，集满印章</tspan><tspan x="111" dy="18.2">的小朋友还可以去兑换礼物。圣诞老人也来到</tspan><tspan x="111" dy="18.2">了我们中间，给孩子们送来了圣诞礼物，孩子</tspan><tspan x="111" dy="18.2">们开心极了。整个活动在欢声笑语中结束，孩</tspan><tspan x="111" dy="18.2">子们度过了一个快乐而有意义的圣诞节，家长</tspan><tspan x="111" dy="18.2">们也纷纷表示这样的活动非常好，既增进了亲</tspan><tspan x="111" dy="18.2">子之间的感情，又让孩子们感受到了节日的快</tspan><tspan x="111" dy="18.2">乐。</tspan></text></g>
</g>
</svg>
